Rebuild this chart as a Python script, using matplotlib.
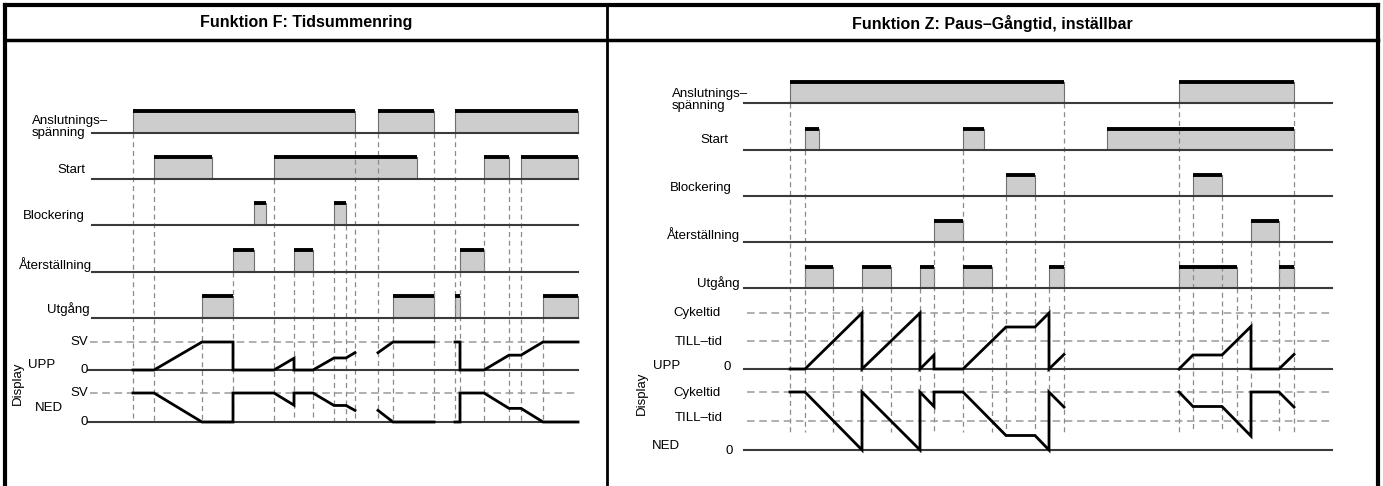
import matplotlib
matplotlib.use('Agg')
import matplotlib.pyplot as plt

plt.rcParams['font.family'] = ['Liberation Sans', 'DejaVu Sans']

# ---------------- data: Funktion F ----------------
f_title = 'Funktion F: Tidsummenring'
f_labels = ['Anslutnings–\nspänning', 'Start', 'Blockering', 'Återställning', 'Utgång']
f_pulses = [
    [(0, 222), (245, 301), (322, 445)],
    [(21, 79), (141, 284), (351, 376), (388, 445)],
    [(121, 133), (201, 213)],
    [(100, 121), (161, 180), (327, 351)],
    [(69, 100), (260, 301), (322, 327), (410, 445)],
]
f_upp_t = [[0, 21, 69, 100, 100, 141, 161, 161, 180, 201, 213, 222],
           [245, 260, 301],
           [322, 327, 327, 351, 376, 388, 410, 445]]
f_upp_v = [[0, 0, 1, 1, 0, 0, 0.42, 0, 0, 0.43, 0.43, 0.62],
           [0.62, 1, 1],
           [1, 1, 0, 0, 0.53, 0.53, 1, 1]]
f_ned_t = f_upp_t
f_ned_v = [[1, 1, 0, 0, 1, 1, 0.58, 1, 1, 0.57, 0.57, 0.40],
           [0.40, 0, 0],
           [0, 0, 1, 1, 0.47, 0.47, 0, 0]]
# (time, row the dashed marker starts from)
f_marks = [(0, 0), (21, 1), (69, 4), (100, 3), (141, 1), (161, 3), (180, 3), (201, 2),
           (213, 2), (222, 0), (245, 0), (260, 4), (301, 0), (322, 0), (327, 3),
           (351, 1), (376, 1), (388, 1), (410, 4)]
f_span = (-41, 445)

# ---------------- data: Funktion Z ----------------
z_title = 'Funktion Z: Paus–Gångtid, inställbar'
z_labels = ['Anslutnings–\nspänning', 'Start', 'Blockering', 'Återställning', 'Utgång']
z_pulses = [
    [(0, 274), (389, 504)],
    [(15, 29), (173, 194), (317, 504)],
    [(216, 245), (403, 432)],
    [(144, 173), (461, 489)],
    [(15, 43), (72, 101), (130, 144), (173, 202), (259, 274), (389, 447), (489, 504)],
]
z_upp_t = [[0, 15, 72, 72, 130, 130, 144, 144, 173, 216, 245, 259, 259, 274],
           [389, 403, 432, 461, 461, 489, 504]]
z_upp_v = [[0, 0, 1, 0, 1, 0, 0.25, 0, 0, 0.75, 0.75, 1, 0, 0.26],
           [0, 0.25, 0.25, 0.76, 0, 0, 0.26]]
z_ned_t = z_upp_t
z_ned_v = [[1, 1, 0, 1, 0, 1, 0.75, 1, 1, 0.25, 0.25, 0, 1, 0.74],
           [1, 0.75, 0.75, 0.24, 1, 1, 0.74]]
z_marks = [(0, 0), (15, 1), (43, 4), (72, 4), (101, 4), (130, 4), (144, 3), (173, 1),
           (202, 4), (216, 2), (245, 2), (259, 4), (274, 0), (389, 0), (403, 2),
           (432, 2), (447, 4), (461, 3), (489, 3), (504, 0)]
z_span = (-46, 542)

W, H = 1383, 486
FILL = '#cdcdcd'
BASE = '#3a3a3a'
DASH = '#8a8a8a'
FS = 9.5


def draw_signals(ax, pulses, rows, hgt, span, marks, mark_bottom):
    for i, row in enumerate(pulses):
        yb = rows[i]
        ax.plot(span, [yb, yb], color=BASE, lw=1.5, zorder=3)
        for t0, t1 in row:
            ax.fill_between([t0, t1], yb, yb - hgt, color=FILL, lw=0, zorder=1)
            ax.plot([t0, t1], [yb - hgt, yb - hgt], color='black', lw=2.8,
                    solid_capstyle='butt', zorder=3)
            for t in (t0, t1):
                ax.plot([t, t], [yb, yb - hgt], color='#707070', lw=0.8, zorder=2)
    for t, r in marks:
        ax.plot([t, t], [rows[r], mark_bottom], color=DASH, lw=0.9,
                ls=(0, (4, 3)), zorder=2)


def draw_curve(ax, ts, vs, zero, scale):
    for t, v in zip(ts, vs):
        ax.plot(t, [zero - x * scale for x in v], color='black', lw=2.0,
                solid_joinstyle='miter', zorder=4)


fig = plt.figure(figsize=(W / 100, H / 100), dpi=100)

# ---- left panel ----
ax = fig.add_axes([5 / W, 0, 602 / W, 1])
ax.set_xlim(5 - 133, 607 - 133)
ax.set_ylim(H, 0)
ax.axis('off')
rows = [133, 179, 225, 272, 318]
draw_signals(ax, f_pulses, rows, 22, f_span, f_marks, 422)
for yz, ys in [(370, 342), (422, 393)]:
    ax.plot([-45, f_span[1]], [yz, yz], color=BASE, lw=1.5, zorder=3)
    ax.plot([-43, f_span[1]], [ys, ys], color='#9a9a9a', lw=1.1, ls=(0, (5, 3)), zorder=2)
draw_curve(ax, f_upp_t, f_upp_v, 370, 28)
draw_curve(ax, f_ned_t, f_ned_v, 422, 29)
ax.text(32 - 133, 127, f_labels[0], fontsize=FS, ha='left', va='center', linespacing=1.0)
ax.text(85 - 133, 170, f_labels[1], fontsize=FS, ha='right', va='center')
ax.text(85 - 133, 216, f_labels[2], fontsize=FS, ha='right', va='center')
ax.text(92 - 133, 265, f_labels[3], fontsize=FS, ha='right', va='center')
ax.text(90 - 133, 309, f_labels[4], fontsize=FS, ha='right', va='center')
ax.text(88 - 133, 342, 'SV', fontsize=FS, ha='right', va='center')
ax.text(88 - 133, 370, '0', fontsize=FS, ha='right', va='center')
ax.text(88 - 133, 393, 'SV', fontsize=FS, ha='right', va='center')
ax.text(88 - 133, 422, '0', fontsize=FS, ha='right', va='center')
ax.text(28 - 133, 365, 'UPP', fontsize=FS, ha='left', va='center')
ax.text(35 - 133, 408, 'NED', fontsize=FS, ha='left', va='center')
ax.text(18 - 133, 383, 'Display', fontsize=FS, ha='center', va='center', rotation=90)

# ---- right panel ----
ax2 = fig.add_axes([607 / W, 0, 771 / W, 1])
ax2.set_xlim(607 - 790, 1378 - 790)
ax2.set_ylim(H, 0)
ax2.axis('off')
rows = [103, 150, 196, 242, 288]
draw_signals(ax2, z_pulses, rows, 21, z_span, z_marks, 432)
for yz, ys in [(369, (313, 341)), (450, (392, 421))]:
    ax2.plot([-46, z_span[1]], [yz, yz], color=BASE, lw=1.5, zorder=3)
    for y in ys:
        ax2.plot([-43, z_span[1]], [y, y], color='#9a9a9a', lw=1.1, ls=(0, (5, 3)), zorder=2)
draw_curve(ax2, z_upp_t, z_upp_v, 369, 56)
draw_curve(ax2, z_ned_t, z_ned_v, 450, 58)
ax2.text(672 - 790, 100, z_labels[0], fontsize=FS, ha='left', va='center', linespacing=1.0)
ax2.text(728 - 790, 140, z_labels[1], fontsize=FS, ha='right', va='center')
ax2.text(732 - 790, 188, z_labels[2], fontsize=FS, ha='right', va='center')
ax2.text(740 - 790, 235, z_labels[3], fontsize=FS, ha='right', va='center')
ax2.text(740 - 790, 283, z_labels[4], fontsize=FS, ha='right', va='center')
ax2.text(673 - 790, 313, 'Cykeltid', fontsize=FS, ha='left', va='center')
ax2.text(675 - 790, 342, 'TILL–tid', fontsize=FS, ha='left', va='center')
ax2.text(653 - 790, 366, 'UPP', fontsize=FS, ha='left', va='center')
ax2.text(731 - 790, 367, '0', fontsize=FS, ha='right', va='center')
ax2.text(673 - 790, 393, 'Cykeltid', fontsize=FS, ha='left', va='center')
ax2.text(675 - 790, 418, 'TILL–tid', fontsize=FS, ha='left', va='center')
ax2.text(652 - 790, 446, 'NED', fontsize=FS, ha='left', va='center')
ax2.text(733 - 790, 451, '0', fontsize=FS, ha='right', va='center')
ax2.text(642 - 790, 393, 'Display', fontsize=FS, ha='center', va='center', rotation=90)

# ---- table frame & headers ----
fr = fig.add_axes([0, 0, 1, 1], zorder=10)
fr.set_xlim(0, W)
fr.set_ylim(H, 0)
fr.axis('off')
fr.patch.set_alpha(0)
fr.plot([5, 1378], [5, 5], color='black', lw=3)
fr.plot([5, 1378], [40, 40], color='black', lw=2.5)
for x, lw in [(5, 3), (607, 2), (1378, 3)]:
    fr.plot([x, x], [5, H], color='black', lw=lw)
for xc, title in [(306, f_title), (992, z_title)]:
    fr.text(xc, 23, title, fontsize=11.5, fontweight='bold', ha='center', va='center')

fig.savefig('out.png', dpi=100)
